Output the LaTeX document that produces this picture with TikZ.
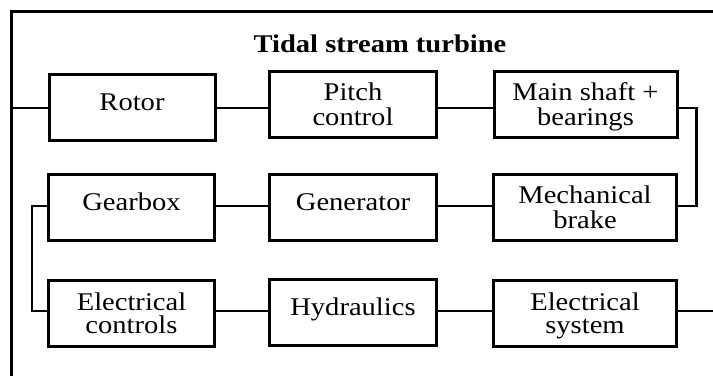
\documentclass[tikz,border=0pt]{standalone}
\usepackage{fontspec}
\setmainfont{Liberation Serif}[FakeStretch=1.12]
\begin{document}
\begin{tikzpicture}[x=1pt,y=-1pt,
  blk/.style={draw,line width=3pt,inner sep=0pt,minimum height=66pt,align=center,
    font=\fontsize{25.5}{25}\selectfont},
  c1/.style={minimum width=166pt},
  c2/.style={minimum width=167pt},
  c3/.style={minimum width=183pt},
  one/.style={text height=17pt,text depth=11pt},
  two/.style={text depth=-4pt},
  twob/.style={font=\fontsize{25.5}{23.5}\selectfont,text depth=-5pt},
  conn/.style={line width=2pt},
  link/.style={line width=2.6pt},
  frame/.style={line width=3.2pt}]
\useasboundingbox (0,0) rectangle (713,376);
% outer frame
\draw[frame] (11.7,376) -- (11.7,11.7) -- (713,11.7);
% title
\node[anchor=base,font=\bfseries\fontsize{25.5}{25}\selectfont] (title) at (380,52) {Tidal stream turbine};
% boxes
\node[blk,c1,one] (rotor) at (132,107.5) {Rotor};
\node[blk,c2,two] (pitch) at (353,104.5) {Pitch\\control};
\node[blk,c3,two] (shaft) at (585.5,104) {Main shaft +\\bearings};
\node[blk,c1,one] (gear) at (131.5,207) {Gearbox};
\node[blk,c2,one] (gen) at (353,207) {Generator};
\node[blk,c3,two] (brake) at (585,207) {Mechanical\\brake};
\node[blk,c1,twob] (ctrl) at (131.5,313) {Electrical\\controls};
\node[blk,c2,one] (hyd) at (353,312.5) {Hydraulics};
\node[blk,c3,twob] (esys) at (585,313) {Electrical\\system};
% free ends
\coordinate (inL) at (12,108);
\coordinate (outR) at (713,311);
% connectors
\draw[conn] (inL) -- (rotor.west|-inL);
\draw[conn] (rotor.east|-inL) -- (pitch.west|-inL);
\draw[conn] (pitch.east|-inL) -- (shaft.west|-inL);
\draw[link] (shaft.east|-inL) -- ++(18,0) |- (brake.east|-0,206);
\draw[conn] (gen.east|-0,206) -- (brake.west|-0,206);
\draw[conn] (gear.east|-0,206) -- (gen.west|-0,206);
\draw[link] (gear.west|-0,206) -- (32,206) |- (ctrl.west|-outR);
\draw[conn] (ctrl.east|-outR) -- (hyd.west|-outR);
\draw[conn] (hyd.east|-outR) -- (esys.west|-outR);
\draw[conn] (esys.east|-outR) -- (outR);
\end{tikzpicture}
\end{document}
